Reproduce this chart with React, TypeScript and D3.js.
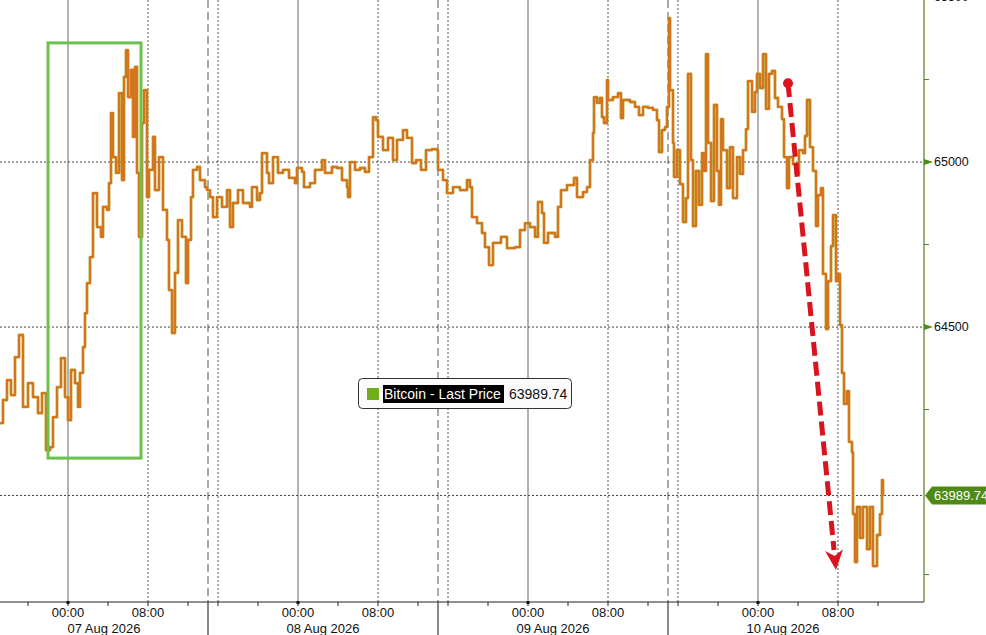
import * as d3 from "d3";

// Bitcoin last price, x = trading hours since 07 Aug 00:00 (the daily
// 14:00-15:00 break is squeezed out, so each day holds 23 hours).
const BTC_TICKS: [number, number][] = [
  [-6.8, 64209], [-6.5, 64279], [-6.1, 64339], [-5.7, 64294], [-5.3, 64409], [-4.9, 64476],
  [-4.5, 64258], [-4.0, 64330], [-3.5, 64288], [-3.0, 64239], [-2.6, 64300], [-2.2, 64127],
  [-1.8, 64136], [-1.5, 64227], [-1.1, 64318], [-0.7, 64406], [-0.3, 64288], [0.0, 64218],
  [0.3, 64370], [0.7, 64330], [1.0, 64258], [1.2, 64361], [1.5, 64439], [1.7, 64542],
  [1.9, 64633], [2.2, 64712], [2.5, 64906], [2.9, 64803], [3.3, 64773], [3.5, 64864],
  [3.9, 64855], [4.1, 64936], [4.3, 65148], [4.5, 65015], [4.8, 64967], [5.1, 65209],
  [5.4, 64945], [5.6, 65258], [5.8, 65339], [6.0, 65197], [6.3, 65279], [6.5, 65076],
  [6.7, 65288], [6.9, 64967], [7.1, 64773], [7.4, 65118], [7.6, 65218], [7.9, 64894],
  [8.1, 64976], [8.5, 65076], [8.7, 64915], [9.1, 65015], [9.5, 64855], [9.9, 64764],
  [10.1, 64612], [10.4, 64482], [10.7, 64664], [11.0, 64824], [11.4, 64773], [11.8, 64633],
  [12.0, 64764], [12.3, 64894], [12.5, 64976], [12.9, 64985], [13.2, 64945], [13.7, 64924],
  [13.9, 64915], [14.2, 64894], [14.5, 64833], [14.9, 64894], [15.4, 64864], [15.9, 64915],
  [16.2, 64803], [16.5, 64876], [17.0, 64915], [17.5, 64876], [18.2, 64864], [18.4, 64924],
  [18.9, 64885], [19.2, 64906], [19.4, 65027], [19.9, 64967], [20.1, 64936], [20.5, 65015],
  [21.0, 64967], [21.5, 64976], [22.1, 64952], [22.7, 64936], [22.9, 64982], [23.4, 64970],
  [23.6, 64924], [24.2, 64936], [24.7, 64976], [25.4, 65006], [25.7, 64967], [26.4, 64985],
  [26.9, 64982], [27.4, 64945], [27.9, 64924], [28.0, 64894], [28.2, 65000], [28.7, 64976],
  [29.2, 64982], [29.7, 64970], [30.1, 65015], [30.5, 65136], [30.8, 65127], [31.0, 65076],
  [31.5, 65036], [32.0, 65073], [32.5, 65006], [32.9, 65067], [33.5, 65097], [33.9, 65073],
  [34.4, 64997], [34.8, 65006], [35.3, 64976], [35.8, 65036], [36.4, 65039], [36.9, 65036],
  [37.0, 64976], [37.5, 64945], [37.9, 64906], [38.5, 64924], [39.2, 64915], [39.9, 64945],
  [40.2, 64924], [40.4, 64833], [40.9, 64815], [41.4, 64785], [41.7, 64742], [42.1, 64688],
  [42.5, 64755], [43.3, 64773], [43.9, 64739], [44.7, 64742], [45.2, 64794], [45.7, 64815],
  [46.2, 64803], [46.7, 64773], [47.0, 64879], [47.4, 64845], [47.6, 64755], [48.0, 64785],
  [48.7, 64773], [49.0, 64864], [49.3, 64915], [49.9, 64930], [50.6, 64952], [50.9, 64894],
  [51.5, 64909], [51.9, 64924], [52.2, 65006], [52.5, 65088], [52.6, 65197], [52.9, 65179],
  [53.2, 65194], [53.4, 65136], [53.6, 65118], [53.9, 65248], [54.0, 65188], [54.5, 65197],
  [55.0, 65209], [55.3, 65133], [55.5, 65188], [56.2, 65182], [56.7, 65167], [57.1, 65142],
  [57.5, 65167], [58.0, 65164], [58.5, 65158], [58.9, 65127], [59.1, 65030], [59.4, 65097],
  [59.7, 65106], [59.9, 65167], [60.1, 65436], [60.2, 65218], [60.5, 65058], [60.6, 64955],
  [60.9, 65036], [61.2, 64933], [61.5, 64818], [61.8, 64891], [62.0, 65267], [62.3, 65006],
  [62.5, 64806], [62.8, 64973], [63.1, 64870], [63.4, 65027], [63.6, 64973], [63.8, 65327],
  [64.0, 65058], [64.3, 64882], [64.6, 65173], [64.9, 64973], [65.1, 64870], [65.3, 65130],
  [65.5, 65036], [65.9, 64921], [66.2, 65045], [66.5, 64891], [66.9, 65015], [67.2, 64964],
  [67.5, 65036], [67.8, 65100], [68.0, 65245], [68.4, 65152], [68.7, 65212], [68.9, 65267],
  [69.2, 65224], [69.5, 65327], [69.8, 65161], [70.1, 65267], [70.4, 65276], [70.7, 65194],
  [71.0, 65167], [71.4, 65130], [71.6, 65015], [71.9, 64921], [72.1, 65015], [72.5, 64994],
  [72.8, 64964], [73.1, 65036], [73.5, 65027], [73.7, 65079], [73.9, 65188], [74.2, 65045],
  [74.5, 64973], [74.8, 64806], [75.0, 64900], [75.3, 64921], [75.5, 64661], [75.8, 64494],
  [76.0, 64639], [76.3, 64745], [76.5, 64839], [76.8, 64639], [77.0, 64661], [77.2, 64506],
  [77.4, 64361], [77.6, 64267], [77.9, 64306], [78.1, 64152], [78.4, 64121], [78.5, 63933],
  [78.7, 63788], [78.9, 63955], [79.2, 63861], [79.5, 63955], [79.9, 63827], [80.2, 63955],
  [80.5, 63776], [80.9, 63870], [81.2, 63933], [81.4, 64036], [81.5, 63989.74],
];

const LAST_PRICE = 63989.74;
const SERIES_NAME = "Bitcoin - Last Price";
const DAYS = ["07 Aug 2026", "08 Aug 2026", "09 Aug 2026", "10 Aug 2026"];
const Y_MAJOR = [64500, 65000, 65500];
const Y_MINOR = [63750, 64250, 64750, 65250];
const Y_GRID = [64500, 65000];

// annotations in data units: the rally box and the sell-off arrow
const BOX = { t0: -2.0, t1: 7.3, hi: 65361, lo: 64103 };
const ARROW = { t0: 72.0, p0: 65239, t1: 76.8, p1: 63764 };

const W = 986;
const H = 635;
const PLOT_R = 924;
const PLOT_B = 602;
const HOURS_PER_DAY = 23;
const BREAK_HOUR = 14;

const FONT = "'Liberation Sans', Arial, sans-serif";
const AXIS_GREEN = "#567a1c";

// clock time on a given day -> trading hours on the x scale
function sessionHour(day: number, hour: number) {
  return day * HOURS_PER_DAY + (hour <= BREAK_HOUR ? hour : hour - 1);
}

const pad2 = (n: number) => String(n).padStart(2, "0");

export default function App() {
  const lastT = BTC_TICKS[BTC_TICKS.length - 1][0];

  const x = d3.scaleLinear().domain([-6.8, 85.6]).range([0, PLOT_R]);
  const y = d3.scaleLinear().domain([63667, 65491]).range([PLOT_B, 0]);

  const line = d3
    .line<[number, number]>()
    .x((d) => x(d[0]))
    .y((d) => y(d[1]))
    .curve(d3.curveStepAfter);
  const path = line(BTC_TICKS) ?? "";

  const [tMin] = x.domain();
  const ticks: { t: number; hour: number }[] = [];
  for (let d = -1; d < DAYS.length; d++) {
    for (const hour of [0, 4, 8, 12, 16, 20]) {
      const t = sessionHour(d, hour);
      if (t >= tMin && t <= lastT + 0.5) ticks.push({ t, hour });
    }
  }
  const separators = DAYS.map((_, d) => sessionHour(d, BREAK_HOUR)).filter(
    (t) => t <= lastT
  );

  const ly = y(LAST_PRICE);

  return (
    <svg
      width={W}
      height={H}
      style={{ position: "absolute", left: 0, top: 0, background: "#fff" }}
      fontFamily={FONT}
    >
      {/* horizontal grid */}
      {Y_GRID.map((v) => (
        <line
          key={v}
          x1={0}
          x2={PLOT_R}
          y1={y(v)}
          y2={y(v)}
          stroke="#444"
          strokeWidth={1}
          strokeDasharray="2,2"
        />
      ))}
      <line x1={0} x2={PLOT_R} y1={ly} y2={ly} stroke="#444" strokeDasharray="2,2" />

      {/* vertical grid */}
      {ticks
        .filter((k) => k.hour === 0 || k.hour === 8 || k.hour === 16)
        .map((k) =>
          k.hour === 0 ? (
            <line key={k.t} x1={x(k.t)} x2={x(k.t)} y1={0} y2={PLOT_B} stroke="#666" strokeWidth={1} />
          ) : (
            <line
              key={k.t}
              x1={x(k.t)}
              x2={x(k.t)}
              y1={0}
              y2={PLOT_B}
              stroke="#555"
              strokeDasharray="2,2"
            />
          )
        )}
      {separators.map((t) => (
        <g key={t}>
          <line x1={x(t)} x2={x(t)} y1={0} y2={PLOT_B} stroke="#555" strokeDasharray="8,4" />
          <line x1={x(t)} x2={x(t)} y1={PLOT_B} y2={H} stroke="#111" />
        </g>
      ))}

      {/* price line */}
      <path d={path} fill="none" stroke="#b8981e" strokeWidth={2.8} strokeLinejoin="round" />
      <path d={path} fill="none" stroke="#d8701f" strokeWidth={1.7} strokeLinejoin="round" />

      {/* rally box */}
      <rect
        x={x(BOX.t0)}
        y={y(BOX.hi)}
        width={x(BOX.t1) - x(BOX.t0)}
        height={y(BOX.lo) - y(BOX.hi)}
        fill="none"
        stroke="#6cc04c"
        strokeWidth={3}
      />

      {/* sell-off arrow */}
      {(() => {
        const x0 = x(ARROW.t0);
        const y0 = y(ARROW.p0);
        const x1 = x(ARROW.t1);
        const y1 = y(ARROW.p1);
        const ang = Math.atan2(y1 - y0, x1 - x0);
        const len = 20;
        const half = 9;
        const bx = x1 - len * Math.cos(ang);
        const by = y1 - len * Math.sin(ang);
        const nx = -Math.sin(ang);
        const ny = Math.cos(ang);
        return (
          <g>
            <line
              x1={x0}
              y1={y0}
              x2={bx}
              y2={by}
              stroke="#d9141f"
              strokeWidth={5}
              strokeDasharray="14,6"
            />
            <circle cx={x0} cy={y0} r={5} fill="#d9141f" />
            <path
              d={`M${x1},${y1} L${bx + nx * half},${by + ny * half} L${bx + Math.cos(ang) * 6},${by + Math.sin(ang) * 6} L${bx - nx * half},${by - ny * half} Z`}
              fill="#d9141f"
            />
          </g>
        );
      })()}

      {/* x axis */}
      <line x1={0} x2={PLOT_R} y1={PLOT_B} y2={PLOT_B} stroke="#222" />
      {ticks.map((k) => (
        <line key={k.t} x1={x(k.t)} x2={x(k.t)} y1={PLOT_B} y2={PLOT_B + 4} stroke="#222" />
      ))}
      {ticks
        .filter((k) => k.hour === 0)
        .map((k) => (
          <rect key={k.t} x={x(k.t) - 1.5} y={PLOT_B - 1} width={3} height={3} fill="#111" />
        ))}
      {ticks
        .filter((k) => k.hour === 0 || k.hour === 8)
        .map((k) => (
          <text key={k.t} x={x(k.t)} y={617} textAnchor="middle" fontSize={13} fill="#111">
            {`${pad2(k.hour)}:00`}
          </text>
        ))}
      {DAYS.map((label, d) => {
        const a = Math.max(x(sessionHour(d - 1, BREAK_HOUR)), 0);
        const b = Math.min(x(sessionHour(d, BREAK_HOUR)), PLOT_R);
        return (
          <text key={label} x={(a + b) / 2} y={633} textAnchor="middle" fontSize={13} fill="#111">
            {label}
          </text>
        );
      })}

      {/* y axis on the right */}
      <line x1={PLOT_R} x2={PLOT_R} y1={0} y2={PLOT_B} stroke={AXIS_GREEN} strokeWidth={1.2} />
      {Y_MINOR.map((v) => (
        <line key={v} x1={PLOT_R} x2={PLOT_R + 5} y1={y(v)} y2={y(v)} stroke={AXIS_GREEN} />
      ))}
      {Y_MAJOR.map((v) => (
        <g key={v}>
          <path
            d={`M${PLOT_R},${y(v) - 3} L${PLOT_R + 9},${y(v)} L${PLOT_R},${y(v) + 3} Z`}
            fill="#4f8a14"
          />
          <text x={PLOT_R + 10} y={y(v)} dy="0.35em" fontSize={12.5} fill="#111">
            {v}
          </text>
        </g>
      ))}
      <path
        d={`M${PLOT_R + 1},${ly} L${PLOT_R + 8},${ly - 9} L${W},${ly - 9} L${W},${ly + 9} L${PLOT_R + 8},${ly + 9} Z`}
        fill="#4f8a14"
      />
      <text x={PLOT_R + 10} y={ly} dy="0.36em" fontSize={13} fill="#fff">
        {LAST_PRICE.toFixed(2)}
      </text>

      {/* legend */}
      <g>
        <rect x={358.5} y={378.5} width={213} height={30} rx={4} fill="#fbfbfb" stroke="#333" />
        <rect x={367} y={388} width={12} height={12} fill="#72ad1c" />
        <rect x={383} y={385} width={121} height={18} fill="#000" />
        <text x={384} y={399} fontSize={14} fill="#fff">
          {SERIES_NAME}
        </text>
        <text x={509} y={399} fontSize={14} fill="#111">
          {LAST_PRICE.toFixed(2)}
        </text>
      </g>
    </svg>
  );
}
